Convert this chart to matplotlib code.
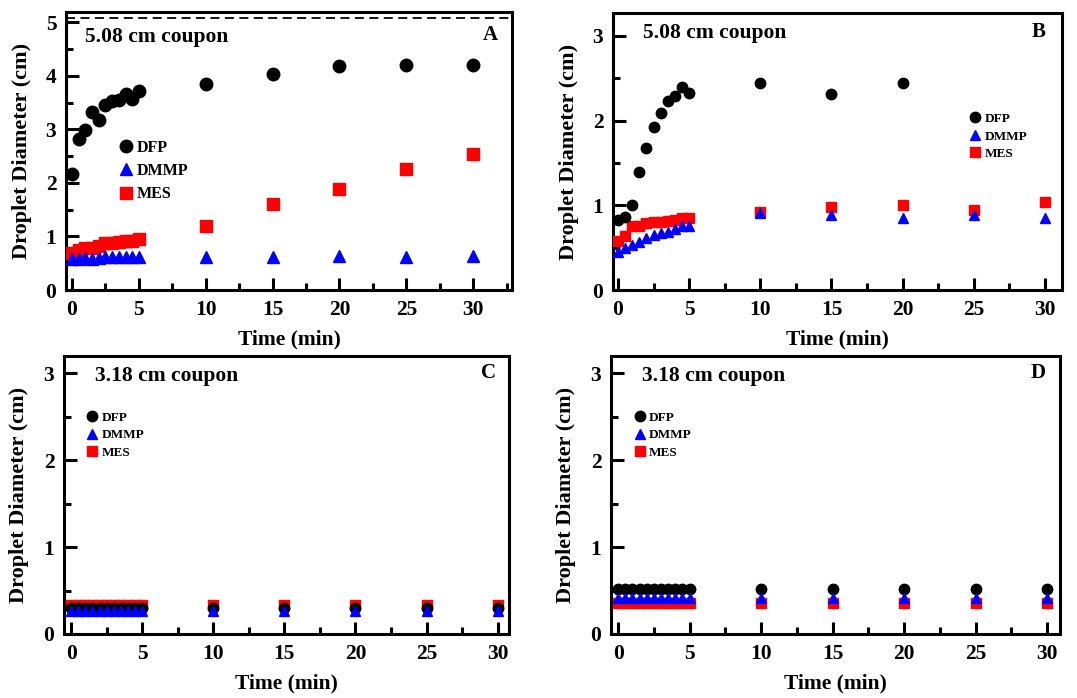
"""Droplet diameter vs time, four coupon panels (A-D)."""

import matplotlib

matplotlib.use("Agg")
import matplotlib.pyplot as plt
from matplotlib.ticker import MultipleLocator

plt.rcParams["font.family"] = ["Liberation Serif", "DejaVu Serif"]
plt.rcParams["font.weight"] = "bold"

BLACK = "#000000"
BLUE = "#0000ff"
RED = "#ff0000"

# time axis (min)
t_early = [0, 0.5, 1, 1.5, 2, 2.5, 3, 3.5, 4, 4.5, 5]
t_late = [10, 15, 20, 25, 30]
t_all = t_early + t_late
t_b_dfp = t_early + [10, 15, 20]

# panel A: 5.08 cm coupon
a_dfp = [2.16, 2.82, 2.99, 3.32, 3.18, 3.46, 3.52, 3.55, 3.66, 3.57, 3.71,
         3.85, 4.04, 4.18, 4.21, 4.21]
a_dmmp = [0.57, 0.58, 0.60, 0.58, 0.60, 0.61, 0.62, 0.62, 0.62, 0.62, 0.62,
          0.61, 0.62, 0.63, 0.61, 0.63]
a_mes = [0.69, 0.74, 0.78, 0.79, 0.82, 0.88, 0.88, 0.89, 0.91, 0.92, 0.95,
         1.19, 1.60, 1.89, 2.26, 2.54]
coupon_a = 5.08

# panel B: 5.08 cm coupon
b_dfp = [0.83, 0.86, 1.00, 1.39, 1.68, 1.92, 2.09, 2.23, 2.29, 2.40, 2.33,
         2.45, 2.32, 2.45]
b_dmmp = [0.45, 0.50, 0.53, 0.57, 0.61, 0.65, 0.67, 0.69, 0.72, 0.75, 0.76,
          0.91, 0.88, 0.85, 0.89, 0.85]
b_mes = [0.58, 0.64, 0.76, 0.76, 0.79, 0.80, 0.80, 0.81, 0.83, 0.85, 0.85,
         0.92, 0.98, 1.00, 0.94, 1.04]

# panel C: 3.18 cm coupon
c_dfp = [0.30] * 16
c_dmmp = [0.26] * 16
c_mes = [0.33] * 16

# panel D: 3.18 cm coupon
d_dfp = [0.52] * 16
d_dmmp = [0.42] * 16
d_mes = [0.36] * 16

fig = plt.figure(figsize=(10.77, 6.98), dpi=100)

ax_a = fig.add_axes([0.0613, 0.5845, 0.4141, 0.3983])
ax_b = fig.add_axes([0.5692, 0.5845, 0.4169, 0.3968])
ax_c = fig.add_axes([0.0594, 0.0917, 0.4132, 0.3983])
ax_d = fig.add_axes([0.5673, 0.0917, 0.4169, 0.3983])


def _style(ax, xlim, ylim):
    ax.set_xlim(*xlim)
    ax.set_ylim(*ylim)
    for s in ax.spines.values():
        s.set_linewidth(2.2)
    ax.xaxis.set_major_locator(MultipleLocator(5))
    ax.xaxis.set_minor_locator(MultipleLocator(2.5))
    ax.yaxis.set_major_locator(MultipleLocator(1))
    ax.yaxis.set_minor_locator(MultipleLocator(0.5))
    ax.tick_params(which="major", direction="in", length=9, width=2.2,
                   labelsize=15.5, top=False, right=False, pad=7)
    ax.tick_params(which="minor", direction="in", length=5, width=2.2,
                   top=False, right=False)
    ax.set_xlabel("Time (min)", fontsize=15.5, fontweight="bold", labelpad=7)
    ax.set_ylabel("Droplet Diameter (cm)", fontsize=16, fontweight="bold", labelpad=10)


def _series(ax, td, dfp, tm, dmmp, mes, ms):
    h_mes, = ax.plot(tm, mes, "s", color=RED, ms=ms * 0.95, label="MES", zorder=3)
    h_dfp, = ax.plot(td, dfp, "o", color=BLACK, ms=ms, label="DFP", zorder=4)
    h_dmmp, = ax.plot(tm, dmmp, "^", color=BLUE, ms=ms, label="DMMP", zorder=5)
    return [h_dfp, h_dmmp, h_mes]


def _legend(ax, handles, anchor, size, spacing):
    ax.legend(handles=handles, loc="upper left", bbox_to_anchor=anchor,
              frameon=False, handlelength=0.8, handletextpad=0.3,
              borderpad=0, borderaxespad=0, labelspacing=spacing,
              prop={"weight": "bold", "size": size})


# A
_style(ax_a, (-0.45, 32.9), (0, 5.19))
h = _series(ax_a, t_all, a_dfp, t_all, a_dmmp, a_mes, 9)
ax_a.axhline(coupon_a, color=BLACK, ls=(0, (5, 3)), lw=1.3)
_legend(ax_a, h, (0.12, 0.54), 11.5, 0.45)
ax_a.text(0.043, 0.911, "5.08 cm coupon", transform=ax_a.transAxes,
          fontsize=15.5, fontweight="bold", va="center")
ax_a.text(0.951, 0.917, "A", transform=ax_a.transAxes,
          fontsize=15, fontweight="bold", ha="center", va="center")

# B
_style(ax_b, (-0.35, 31.2), (0, 3.27))
h = _series(ax_b, t_b_dfp, b_dfp, t_all, b_dmmp, b_mes, 7.5)
_legend(ax_b, h, (0.795, 0.64), 9.5, 0.4)
ax_b.text(0.067, 0.929, "5.08 cm coupon", transform=ax_b.transAxes,
          fontsize=15.5, fontweight="bold", va="center")
ax_b.text(0.949, 0.932, "B", transform=ax_b.transAxes,
          fontsize=15, fontweight="bold", ha="center", va="center")

# C
_style(ax_c, (-0.5, 30.8), (0, 3.2))
h = _series(ax_c, t_all, c_dfp, t_all, c_dmmp, c_mes, 7.5)
_legend(ax_c, h, (0.052, 0.80), 9.5, 0.4)
ax_c.text(0.07, 0.928, "3.18 cm coupon", transform=ax_c.transAxes,
          fontsize=15.5, fontweight="bold", va="center")
ax_c.text(0.955, 0.939, "C", transform=ax_c.transAxes,
          fontsize=15, fontweight="bold", ha="center", va="center")

# D
_style(ax_d, (-0.5, 30.9), (0, 3.2))
h = _series(ax_d, t_all, d_dfp, t_all, d_dmmp, d_mes, 7.5)
_legend(ax_d, h, (0.052, 0.80), 9.5, 0.4)
ax_d.text(0.068, 0.928, "3.18 cm coupon", transform=ax_d.transAxes,
          fontsize=15.5, fontweight="bold", va="center")
ax_d.text(0.951, 0.939, "D", transform=ax_d.transAxes,
          fontsize=15, fontweight="bold", ha="center", va="center")

fig.savefig("out.png", dpi=100)
